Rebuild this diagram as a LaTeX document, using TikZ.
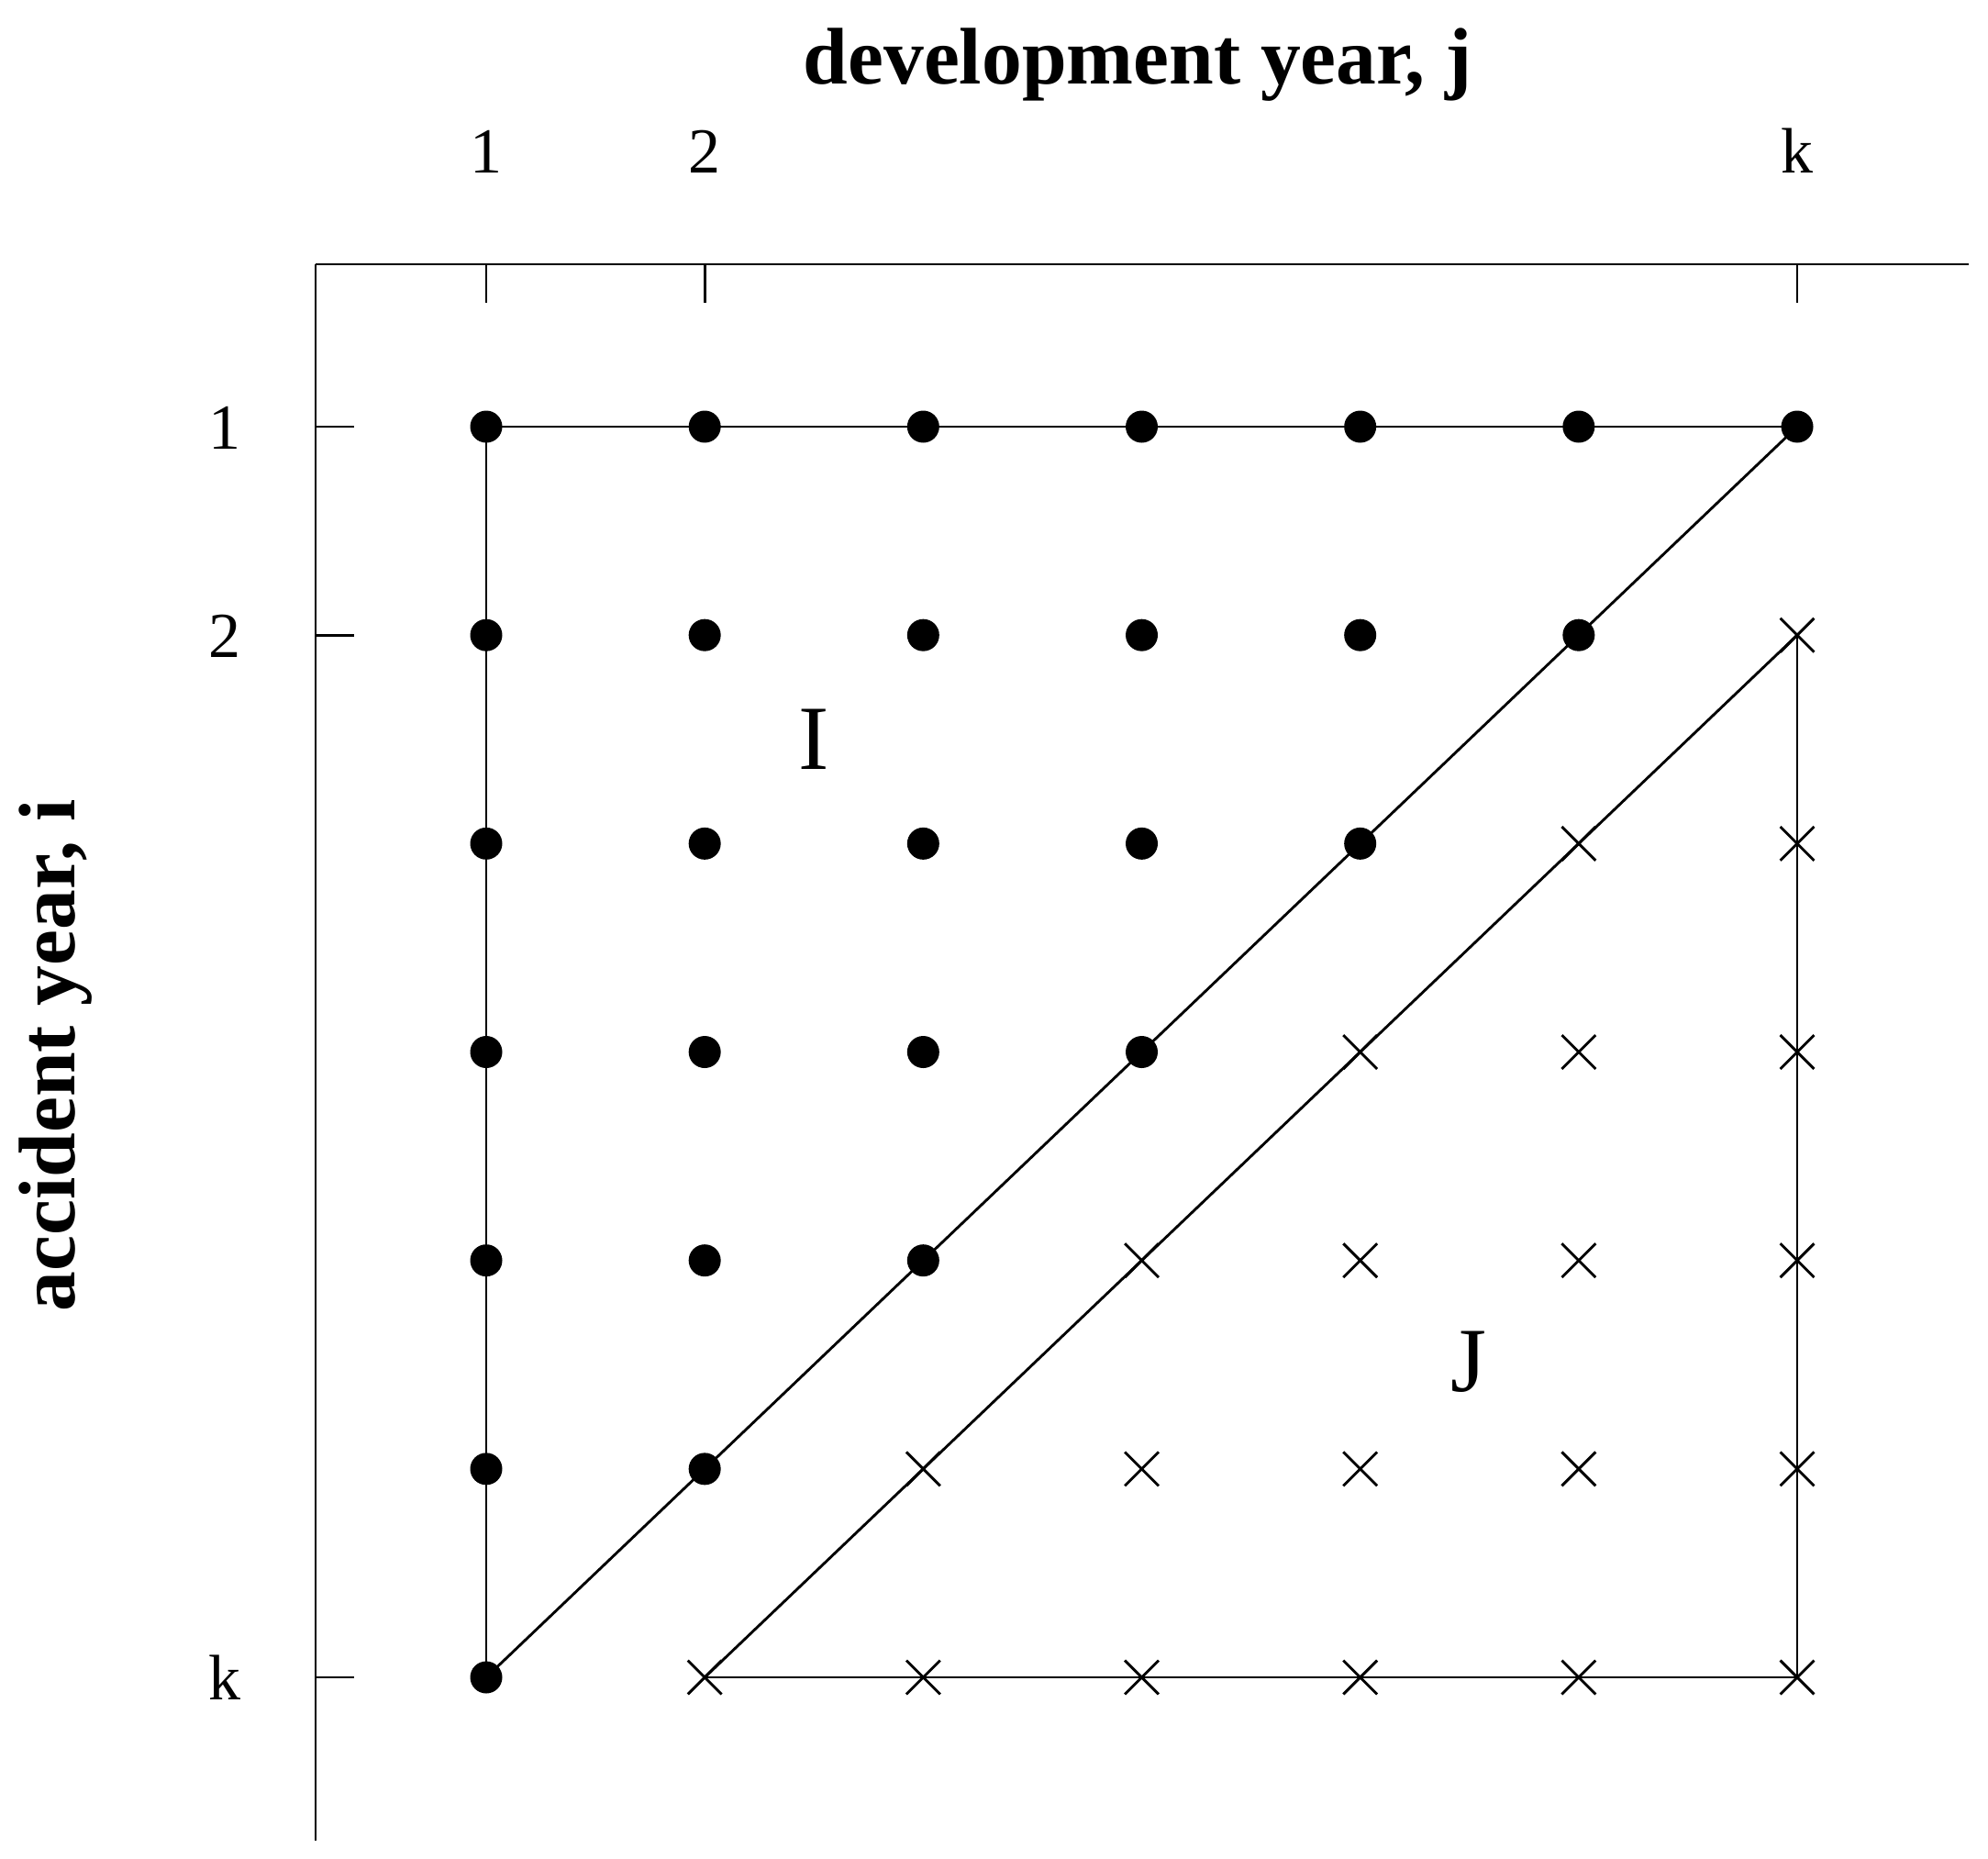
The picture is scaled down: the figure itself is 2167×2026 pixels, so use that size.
\documentclass[tikz,border=0pt]{standalone}
\usepackage{fontspec}
\setmainfont{Liberation Serif}
\usetikzlibrary{shapes.misc,calc}
\begin{document}
\begin{tikzpicture}[x=0.4pt,y=-0.4pt,
  dotmark/.style={circle,fill=black,inner sep=0pt,minimum size=14pt},
  xmark/.style={cross out,draw=black,line width=1.15pt,inner sep=0pt,minimum size=13.6pt},
  mainline/.style={line width=1.15pt},
  axisline/.style={line width=0.8pt},
  ticklabel/.style={font=\fontsize{28}{30}\selectfont,anchor=base,inner sep=0pt},
  axistitle/.style={font=\bfseries\fontsize{35}{37}\selectfont,anchor=base,inner sep=0pt},
  region/.style={font=\fontsize{40}{42}\selectfont,anchor=base,inner sep=0pt}]
\useasboundingbox (0,0) rectangle (2167,2026);
% grid of points
\foreach \i in {1,...,7} {
  \foreach \j in {1,...,7} {
    \pgfmathtruncatemacro{\s}{\i+\j}
    \pgfmathsetmacro{\xx}{530+238.17*(\j-1)}
    \pgfmathsetmacro{\yy}{465+227.17*(\i-1)}
    \ifnum\s<9
      \node[dotmark] (p-\i-\j) at (\xx,\yy) {};
    \else
      \node[xmark] (p-\i-\j) at (\xx,\yy) {};
    \fi
  }
}
% triangle I
\draw[mainline] (p-1-1.center) -- (p-1-7.center);
\draw[mainline] (p-1-1.center) -- (p-7-1.center);
\draw[mainline] (p-7-1.center) -- (p-1-7.center);
% triangle J
\draw[mainline] (p-7-2.center) -- (p-2-7.center);
\draw[mainline] (p-2-7.center) -- (p-7-7.center);
\draw[mainline] (p-7-2.center) -- (p-7-7.center);
% axes
\coordinate (corner) at (344,288);
\coordinate (topend) at (2146,288);
\coordinate (leftend) at (344,2006);
\draw[axisline] (corner) -- (p-1-1 |- corner);
\draw[mainline] (p-1-1 |- corner) -- (topend);
\draw[axisline] (corner) -- (corner |- p-1-1);
\draw[mainline] (corner |- p-1-1) -- (corner |- p-7-1);
\draw[axisline] (corner |- p-7-1) -- (leftend);
\foreach \j in {1,2,7} \draw[mainline] (p-1-\j |- corner) -- ++(0,42);
\foreach \i in {1,2,7} \draw[mainline] (corner |- p-\i-1) -- ++(42,0);
% tick labels
\coordinate (toplab) at (0,188);
\coordinate (leftlab) at (245,0);
\node[ticklabel] (tj1) at (p-1-1 |- toplab) {1};
\node[ticklabel] (tj2) at (p-1-2 |- toplab) {2};
\node[ticklabel] (tjk) at (p-1-7 |- toplab) {k};
\node[ticklabel] (ti1) at ($(leftlab |- p-1-1)+(0,24)$) {1};
\node[ticklabel] (ti2) at ($(leftlab |- p-2-1)+(0,24)$) {2};
\node[ticklabel] (tik) at ($(leftlab |- p-7-1)+(0,24)$) {k};
% titles
\node[axistitle] (devtitle) at (1240,92) {development year, j};
\node[axistitle,rotate=90] (acctitle) at (82,1150) {accident year, i};
% region labels
\node[region] (labI) at (887,838) {I};
\node[region] (labJ) at (1601,1516) {J};
\end{tikzpicture}
\end{document}
